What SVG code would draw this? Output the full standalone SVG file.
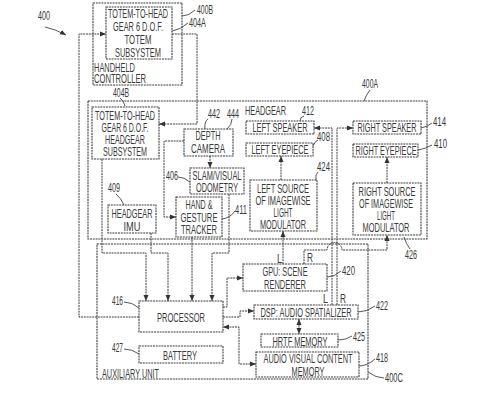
<svg xmlns="http://www.w3.org/2000/svg" width="498" height="402" viewBox="0 0 498 402">
<defs>
<style>
.b{fill:none;stroke:#3c3c3c;stroke-width:1.1;stroke-dasharray:2 0.8}
.c{fill:none;stroke:#3c3c3c;stroke-width:1;stroke-dasharray:2 0.8}
.l{fill:none;stroke:#444;stroke-width:0.9}
text{font-family:"Liberation Sans",Arial,sans-serif;font-size:12.5px;fill:#3a3a3a}
.m{text-anchor:middle}
</style>
<marker id="a" markerWidth="7" markerHeight="6" refX="6" refY="3" orient="auto" markerUnits="userSpaceOnUse"><path d="M0,0.5 L6,3 L0,5.5 Z" fill="#333"/></marker>
<marker id="s" markerWidth="7" markerHeight="6" refX="1" refY="3" orient="auto" markerUnits="userSpaceOnUse"><path d="M7,0.5 L1,3 L7,5.5 Z" fill="#333"/></marker>
</defs>
<rect width="498" height="402" fill="#fff"/>

<g id="ref400">
<text transform="matrix(.6 0 0 1 38 20)" textLength="20" lengthAdjust="spacingAndGlyphs">400</text>
<path class="l" d="M45,27 Q55,29 66,35" marker-end="url(#a)"/>
</g>

<g id="handheld">
<rect class="b" x="93" y="3" width="89" height="82"/>
<text transform="matrix(.6 0 0 1 94 72)" textLength="68.3" lengthAdjust="spacingAndGlyphs">HANDHELD</text>
<text transform="matrix(.6 0 0 1 94 83)" textLength="86.7" lengthAdjust="spacingAndGlyphs">CONTROLLER</text>
<text transform="matrix(.6 0 0 1 197 14)" textLength="26.7" lengthAdjust="spacingAndGlyphs">400B</text>
<path class="l" d="M182,16 Q189,16 195,10"/>
</g>
<g id="totem404A">
<rect class="b" x="106" y="7" width="66" height="52"/>
<text class="m" transform="matrix(.6 0 0 1 138 18)" textLength="100" lengthAdjust="spacingAndGlyphs">TOTEM-TO-HEAD</text>
<text class="m" transform="matrix(.6 0 0 1 138 31)" textLength="83.3" lengthAdjust="spacingAndGlyphs">GEAR 6 D.O.F.</text>
<text class="m" transform="matrix(.6 0 0 1 138 44)" textLength="45" lengthAdjust="spacingAndGlyphs">TOTEM</text>
<text class="m" transform="matrix(.6 0 0 1 138 57)" textLength="76.7" lengthAdjust="spacingAndGlyphs">SUBSYSTEM</text>
<text transform="matrix(.6 0 0 1 189 27)" textLength="28.3" lengthAdjust="spacingAndGlyphs">404A</text>
<path class="l" d="M172,31 Q180,30 188,23"/>
</g>

<g id="headgear">
<rect class="b" x="88" y="101" width="339" height="138"/>
<text transform="matrix(.6 0 0 1 245 115)" textLength="68.3" lengthAdjust="spacingAndGlyphs">HEADGEAR</text>
<text transform="matrix(.6 0 0 1 362 88)" textLength="26.7" lengthAdjust="spacingAndGlyphs">400A</text>
<path class="l" d="M370,90 Q366,95 364,101"/>
</g>
<g id="totem404B">
<rect class="b" x="92" y="107" width="67" height="52"/>
<text class="m" transform="matrix(.6 0 0 1 125 120)" textLength="100" lengthAdjust="spacingAndGlyphs">TOTEM-TO-HEAD</text>
<text class="m" transform="matrix(.6 0 0 1 125 132)" textLength="78.3" lengthAdjust="spacingAndGlyphs">GEAR 6 D.O.F.</text>
<text class="m" transform="matrix(.6 0 0 1 125 144)" textLength="66.7" lengthAdjust="spacingAndGlyphs">HEADGEAR</text>
<text class="m" transform="matrix(.6 0 0 1 125 156)" textLength="73.3" lengthAdjust="spacingAndGlyphs">SUBSYSTEM</text>
<text transform="matrix(.6 0 0 1 113 97)" textLength="26.7" lengthAdjust="spacingAndGlyphs">404B</text>
<path class="l" d="M120,98 Q124,101 125,106"/>
</g>
<g id="depth">
<rect class="b" x="184" y="129" width="49" height="27"/>
<text class="m" transform="matrix(.6 0 0 1 208 140)" textLength="41.7" lengthAdjust="spacingAndGlyphs">DEPTH</text>
<text class="m" transform="matrix(.6 0 0 1 208 153)" textLength="56.7" lengthAdjust="spacingAndGlyphs">CAMERA</text>
<text transform="matrix(.6 0 0 1 208 118)" textLength="20" lengthAdjust="spacingAndGlyphs">442</text>
<text transform="matrix(.6 0 0 1 227 118)" textLength="20" lengthAdjust="spacingAndGlyphs">444</text>
<path class="l" d="M205,129 Q204,122 208,119"/>
<path class="l" d="M227,129 Q232,125 232,119"/>
</g>
<g id="slam">
<rect class="b" x="190" y="168" width="54" height="26"/>
<text class="m" transform="matrix(.6 0 0 1 217 180)" textLength="81.7" lengthAdjust="spacingAndGlyphs">SLAM/VISUAL</text>
<text class="m" transform="matrix(.6 0 0 1 217 192)" textLength="70" lengthAdjust="spacingAndGlyphs">ODOMETRY</text>
<text transform="matrix(.6 0 0 1 166 180)" textLength="20" lengthAdjust="spacingAndGlyphs">406</text>
<path class="l" d="M178,177 Q184,177 190,182"/>
</g>
<g id="tracker">
<rect class="b" x="176" y="197" width="46" height="40"/>
<text class="m" transform="matrix(.6 0 0 1 199 209)" textLength="45" lengthAdjust="spacingAndGlyphs">HAND &amp;</text>
<text class="m" transform="matrix(.6 0 0 1 199 222)" textLength="61.7" lengthAdjust="spacingAndGlyphs">GESTURE</text>
<text class="m" transform="matrix(.6 0 0 1 199 234)" textLength="60" lengthAdjust="spacingAndGlyphs">TRACKER</text>
<text transform="matrix(.6 0 0 1 235 214)" textLength="20" lengthAdjust="spacingAndGlyphs">411</text>
<path class="l" d="M222,219 Q230,218 235,211"/>
</g>
<g id="imu">
<rect class="b" x="108" y="205" width="48" height="28"/>
<text class="m" transform="matrix(.6 0 0 1 132 218)" textLength="68.3" lengthAdjust="spacingAndGlyphs">HEADGEAR</text>
<text class="m" transform="matrix(.6 0 0 1 132 231)" textLength="28.3" lengthAdjust="spacingAndGlyphs">IMU</text>
<text transform="matrix(.6 0 0 1 108 192)" textLength="20" lengthAdjust="spacingAndGlyphs">409</text>
<path class="l" d="M116,194 Q121,198 124,205"/>
</g>
<g id="leftSpeaker">
<rect class="b" x="246" y="121" width="68" height="13"/>
<text class="m" transform="matrix(.6 0 0 1 280 131.5)" textLength="91.7" lengthAdjust="spacingAndGlyphs">LEFT SPEAKER</text>
<text transform="matrix(.6 0 0 1 302 115)" textLength="20" lengthAdjust="spacingAndGlyphs">412</text>
<path class="l" d="M300,121 Q300,117 304,116"/>
</g>
<g id="leftEyepiece">
<rect class="b" x="246" y="143" width="67" height="13"/>
<text class="m" transform="matrix(.6 0 0 1 280 154)" textLength="95" lengthAdjust="spacingAndGlyphs">LEFT EYEPIECE</text>
<text transform="matrix(.6 0 0 1 317 141)" textLength="21.7" lengthAdjust="spacingAndGlyphs">408</text>
<path class="l" d="M313,146 Q315,141 318,140"/>
</g>
<g id="leftSource">
<rect class="b" x="250" y="180" width="67" height="51"/>
<text class="m" transform="matrix(.6 0 0 1 283 193)" textLength="86.7" lengthAdjust="spacingAndGlyphs">LEFT SOURCE</text>
<text class="m" transform="matrix(.6 0 0 1 283 205)" textLength="91.7" lengthAdjust="spacingAndGlyphs">OF IMAGEWISE</text>
<text class="m" transform="matrix(.6 0 0 1 283 217)" textLength="31.7" lengthAdjust="spacingAndGlyphs">LIGHT</text>
<text class="m" transform="matrix(.6 0 0 1 283 229)" textLength="76.7" lengthAdjust="spacingAndGlyphs">MODULATOR</text>
<text transform="matrix(.6 0 0 1 317 171)" textLength="21.7" lengthAdjust="spacingAndGlyphs">424</text>
<path class="l" d="M316,180 Q315,174 318,172"/>
</g>
<g id="rightSpeaker">
<rect class="b" x="353" y="121" width="68" height="13"/>
<text class="m" transform="matrix(.6 0 0 1 387 131.5)" textLength="98.3" lengthAdjust="spacingAndGlyphs">RIGHT SPEAKER</text>
<text transform="matrix(.6 0 0 1 433 126)" textLength="21.7" lengthAdjust="spacingAndGlyphs">414</text>
<path class="l" d="M421,128 Q427,127 432,123"/>
</g>
<g id="rightEyepiece">
<rect class="b" x="353" y="144" width="65" height="13"/>
<text class="m" transform="matrix(.6 0 0 1 386 155)" textLength="101.7" lengthAdjust="spacingAndGlyphs">RIGHT EYEPIECE</text>
<text transform="matrix(.6 0 0 1 434 148)" textLength="21.7" lengthAdjust="spacingAndGlyphs">410</text>
<path class="l" d="M418,150 Q425,149 432,145"/>
</g>
<g id="rightSource">
<rect class="b" x="353" y="183" width="68" height="52"/>
<text class="m" transform="matrix(.6 0 0 1 387 196)" textLength="95" lengthAdjust="spacingAndGlyphs">RIGHT SOURCE</text>
<text class="m" transform="matrix(.6 0 0 1 386 208)" textLength="90" lengthAdjust="spacingAndGlyphs">OF IMAGEWISE</text>
<text class="m" transform="matrix(.6 0 0 1 386 220)" textLength="30" lengthAdjust="spacingAndGlyphs">LIGHT</text>
<text class="m" transform="matrix(.6 0 0 1 386 232)" textLength="78.3" lengthAdjust="spacingAndGlyphs">MODULATOR</text>
<text transform="matrix(.6 0 0 1 405 259)" textLength="20" lengthAdjust="spacingAndGlyphs">426</text>
<path class="l" d="M404,237 Q406,244 410,249"/>
</g>

<g id="auxiliary">
<rect class="b" x="97" y="244" width="271" height="135"/>
<text transform="matrix(.6 0 0 1 102 378)" textLength="95" lengthAdjust="spacingAndGlyphs">AUXILIARY UNIT</text>
<text transform="matrix(.6 0 0 1 385 382)" textLength="30" lengthAdjust="spacingAndGlyphs">400C</text>
<path class="l" d="M368,372 Q376,378 384,378"/>
</g>
<g id="gpu">
<rect class="b" x="243" y="264" width="84" height="27"/>
<text class="m" transform="matrix(.6 0 0 1 285 276)" textLength="75" lengthAdjust="spacingAndGlyphs">GPU: SCENE</text>
<text class="m" transform="matrix(.6 0 0 1 285 289)" textLength="70" lengthAdjust="spacingAndGlyphs">RENDERER</text>
<text transform="matrix(.6 0 0 1 342 275)" textLength="21.7" lengthAdjust="spacingAndGlyphs">420</text>
<path class="l" d="M327,277 Q335,277 341,271"/>
</g>
<g id="dsp">
<rect class="b" x="254" y="305" width="104" height="14"/>
<text class="m" transform="matrix(.6 0 0 1 306 317)" textLength="151.7" lengthAdjust="spacingAndGlyphs">DSP: AUDIO SPATIALIZER</text>
<text transform="matrix(.6 0 0 1 376 310)" textLength="20" lengthAdjust="spacingAndGlyphs">422</text>
<path class="l" d="M358,312 Q367,312 375,306"/>
</g>
<g id="hrtf">
<rect class="b" x="261" y="334" width="77" height="13"/>
<text class="m" transform="matrix(.6 0 0 1 300 346)" textLength="91.7" lengthAdjust="spacingAndGlyphs">HRTF MEMORY</text>
<text transform="matrix(.6 0 0 1 353 341)" textLength="20" lengthAdjust="spacingAndGlyphs">425</text>
<path class="l" d="M338,340 Q346,340 352,336"/>
</g>
<g id="avMemory">
<rect class="b" x="256" y="352" width="103" height="25"/>
<text class="m" transform="matrix(.6 0 0 1 308 363)" textLength="148.3" lengthAdjust="spacingAndGlyphs">AUDIO VISUAL CONTENT</text>
<text class="m" transform="matrix(.6 0 0 1 308 376)" textLength="55" lengthAdjust="spacingAndGlyphs">MEMORY</text>
<text transform="matrix(.6 0 0 1 376 362)" textLength="20" lengthAdjust="spacingAndGlyphs">418</text>
<path class="l" d="M359,366 Q367,366 375,359"/>
</g>
<g id="processor">
<rect class="b" x="139" y="301" width="84" height="31"/>
<text class="m" transform="matrix(.6 0 0 1 181 322)" textLength="80" lengthAdjust="spacingAndGlyphs">PROCESSOR</text>
<text transform="matrix(.6 0 0 1 112 305)" textLength="18.3" lengthAdjust="spacingAndGlyphs">416</text>
<path class="l" d="M124,302 Q132,302 139,308"/>
</g>
<g id="battery">
<rect class="b" x="139" y="346" width="84" height="17"/>
<text class="m" transform="matrix(.6 0 0 1 180 360)" textLength="56.7" lengthAdjust="spacingAndGlyphs">BATTERY</text>
<text transform="matrix(.6 0 0 1 112 352)" textLength="18.3" lengthAdjust="spacingAndGlyphs">427</text>
<path class="l" d="M124,349 Q132,349 139,354"/>
</g>

<g id="connectors">
<path class="c" d="M139,317 H79 V34 H106" marker-end="url(#a)"/>
<path class="c" d="M172,34 H197 V124 H159" marker-end="url(#a)"/>
<path class="c" d="M210,156 V168" marker-end="url(#a)"/>
<path class="c" d="M184,141 H164 V217 H176" marker-end="url(#a)"/>
<path class="c" d="M102,159 V253 H146 V301" marker-end="url(#a)"/>
<path class="c" d="M151,233 V253 H168 V301" marker-end="url(#a)"/>
<path class="c" d="M192,237 V301" marker-end="url(#a)"/>
<path class="c" d="M229,194 V253 H212 V301" marker-end="url(#a)"/>
<path class="c" d="M223,307 H227 V278 H243" marker-end="url(#a)"/>
<path class="c" d="M223,317 H240 V311 H254" marker-end="url(#a)"/>
<path class="c" d="M256,364 H239 V327 H223" marker-start="url(#s)" marker-end="url(#a)"/>
<path class="c" d="M299,319 V334" marker-start="url(#s)" marker-end="url(#a)"/>
<path class="c" d="M283,264 V231" marker-end="url(#a)"/>
<path class="c" d="M304,264 V250 H327 A7.5,7.5 0 0 1 342,250 H387 V235" marker-end="url(#a)"/>
<path class="c" d="M332,305 V128 H314" marker-end="url(#a)"/>
<path class="c" d="M337,305 V128 H353" marker-end="url(#a)"/>
<path class="c" d="M281,180 V156" marker-end="url(#a)"/>
<path class="c" d="M387,183 V157" marker-end="url(#a)"/>
<text transform="matrix(.6 0 0 1 277 263)" textLength="8.3" lengthAdjust="spacingAndGlyphs">L</text>
<text transform="matrix(.6 0 0 1 307 262)" textLength="10" lengthAdjust="spacingAndGlyphs">R</text>
<text transform="matrix(.6 0 0 1 323 303)" textLength="8.3" lengthAdjust="spacingAndGlyphs">L</text>
<text transform="matrix(.6 0 0 1 340 303)" textLength="10" lengthAdjust="spacingAndGlyphs">R</text>
</g>
</svg>
